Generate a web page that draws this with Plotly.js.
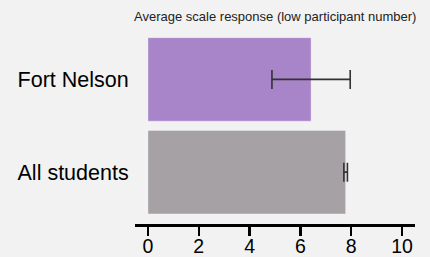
<!DOCTYPE html>
<html><head><meta charset="utf-8">
<script src="https://cdn.plot.ly/plotly-3.0.1.min.js"></script>
<style>body{margin:0;background:#f2f2f2}#c{width:430px;height:257px}</style>
</head><body><div id="c"></div>
<script>
const categories = ["All students", "Fort Nelson"];
const values = [7.78, 6.42];
const errors = [0.07, 1.54];
const colors = ["#a6a1a5", "#a884c8"];
const xTicks = [0, 2, 4, 6, 8, 10];

const trace = {
  type: "bar", orientation: "h",
  y: categories, x: values,
  marker: {color: colors, line: {color: "rgba(255,255,255,0.35)", width: 1}},
  error_x: {type: "data", array: errors, visible: true, color: "#333333", thickness: 1.6, width: 9.5},
  width: 0.9
};
const layout = {
  width: 430, height: 257,
  paper_bgcolor: "#f2f2f2", plot_bgcolor: "#f2f2f2",
  margin: {l: 135, r: 15, t: 32.5, b: 33},
  showlegend: false,
  font: {family: "Arial, 'Liberation Sans', sans-serif", color: "#000"},
  title: {text: "Average scale response (low participant number)", font: {size: 13, color: "#222"}, x: 0.64, xanchor: "center", y: 0.935, yanchor: "middle"},
  xaxis: {range: [-0.51, 10.51], tickvals: xTicks, ticktext: xTicks.map(String),
    showgrid: false, zeroline: false, showline: true, linecolor: "#000", linewidth: 3,
    ticks: "outside", ticklen: 9, tickwidth: 2.5, tickcolor: "#000",
    tickfont: {size: 19.5}, ticklabelstandoff: -6, fixedrange: true},
  yaxis: {type: "category", range: [-0.559, 1.5], showgrid: false, zeroline: false,
    showline: false, ticks: "outside", ticklen: 1, tickcolor: "rgba(0,0,0,0)",
    tickfont: {size: 21.5}, fixedrange: true}
};
Plotly.newPlot("c", [trace], layout, {displayModeBar: false, staticPlot: true});
</script></body></html>
